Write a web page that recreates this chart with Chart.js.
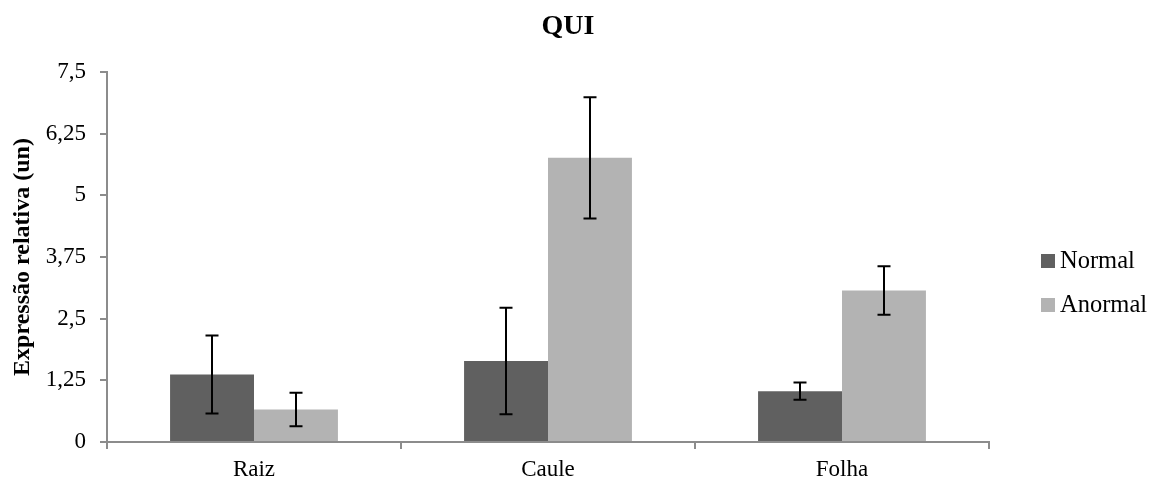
<!DOCTYPE html>
<html>
<head>
<meta charset="utf-8">
<script src="https://cdn.jsdelivr.net/npm/chart.js@4.4.0/dist/chart.umd.min.js"></script>
<style>
  html, body { margin: 0; padding: 0; background: #ffffff; }
  #wrap { width: 1161px; height: 484px; }
</style>
</head>
<body>
<div id="wrap"><canvas id="c" width="1161" height="484"></canvas></div>
<script>
// Relative expression per plant organ
const categories = ['Raiz', 'Caule', 'Folha'];
const seriesNames = ['Normal', 'Anormal'];
const normalValues = [1.37, 1.64, 1.03];
const normalErrors = [0.79, 1.08, 0.175];
const anormalValues = [0.66, 5.76, 3.07];
const anormalErrors = [0.34, 1.23, 0.49];
const yTickLabels = ['0', '1,25', '2,5', '3,75', '5', '6,25', '7,5'];
const chartTitle = 'QUI';
const yAxisTitle = 'Expressão relativa (un)';

const serif = "'Liberation Serif', 'Times New Roman', serif";
const axisGray = '#8c8c8c';
const seriesColors = ['#606060', '#b3b3b3'];
const seriesErrors = [normalErrors, anormalErrors];

// Error bars, legend and title drawn on top of the bars
const decorations = {
  id: 'decorations',
  afterDatasetsDraw(chart) {
    const ctx = chart.ctx;
    const yScale = chart.scales.y;
    ctx.save();
    ctx.strokeStyle = '#000000';
    ctx.lineWidth = 2;
    chart.data.datasets.forEach((ds, di) => {
      const meta = chart.getDatasetMeta(di);
      meta.data.forEach((bar, i) => {
        const v = ds.data[i];
        const e = seriesErrors[di][i];
        const yTop = yScale.getPixelForValue(v + e);
        const yBot = yScale.getPixelForValue(v - e);
        const x = Math.round(bar.x);
        const cap = 6.5;
        ctx.beginPath();
        ctx.moveTo(x, yTop); ctx.lineTo(x, yBot);
        ctx.moveTo(x - cap, yTop); ctx.lineTo(x + cap, yTop);
        ctx.moveTo(x - cap, yBot); ctx.lineTo(x + cap, yBot);
        ctx.stroke();
      });
    });
    ctx.restore();
  },
  afterDraw(chart) {
    const ctx = chart.ctx;
    const area = chart.chartArea;
    ctx.save();
    // title
    ctx.fillStyle = '#000000';
    ctx.font = 'bold 28px ' + serif;
    ctx.textAlign = 'center';
    ctx.textBaseline = 'middle';
    ctx.fillText(chartTitle, 568, 27);
    // legend
    ctx.font = '24.5px ' + serif;
    ctx.textAlign = 'left';
    chart.data.datasets.forEach((ds, i) => {
      const cy = area.top + 189 + i * 44;
      const bx = area.right + 52;
      ctx.fillStyle = ds.backgroundColor;
      ctx.fillRect(bx, cy - 7, 14, 14);
      ctx.fillStyle = '#000000';
      ctx.fillText(ds.label, bx + 19, cy + 1);
    });
    ctx.restore();
  }
};

new Chart(document.getElementById('c'), {
  type: 'bar',
  data: {
    labels: categories,
    datasets: [
      { label: seriesNames[0], data: normalValues, backgroundColor: seriesColors[0], borderWidth: 0 },
      { label: seriesNames[1], data: anormalValues, backgroundColor: seriesColors[1], borderWidth: 0 }
    ]
  },
  options: {
    responsive: false,
    animation: false,
    devicePixelRatio: 1,
    layout: { padding: { left: 0, right: 172, top: 72, bottom: 0 } },
    datasets: { bar: { categoryPercentage: 0.571, barPercentage: 1.0 } },
    plugins: {
      legend: { display: false },
      title: { display: false },
      tooltip: { enabled: false }
    },
    scales: {
      x: {
        offset: true,
        grid: {
          offset: true,
          drawOnChartArea: false,
          drawTicks: true,
          tickLength: 7,
          color: axisGray,
          lineWidth: 2
        },
        border: { display: true, color: axisGray, width: 2 },
        ticks: {
          color: '#000000',
          font: { family: serif, size: 23 },
          padding: 7,
          maxRotation: 0
        },
        afterFit(s) { s.height = 42; }
      },
      y: {
        min: 0,
        max: 7.5,
        grid: {
          drawOnChartArea: false,
          drawTicks: true,
          tickLength: 7,
          color: axisGray,
          lineWidth: 2
        },
        border: { display: true, color: axisGray, width: 2 },
        ticks: {
          stepSize: 1.25,
          color: '#000000',
          font: { family: serif, size: 23 },
          padding: 14,
          callback: (v, i) => yTickLabels[i]
        },
        title: {
          display: true,
          text: yAxisTitle,
          color: '#000000',
          font: { family: serif, size: 24, weight: 'bold' },
          padding: { top: 8, bottom: 0 }
        },
        afterFit(s) { s.width = 107; }
      }
    }
  },
  plugins: [decorations]
});
</script>
</body>
</html>
